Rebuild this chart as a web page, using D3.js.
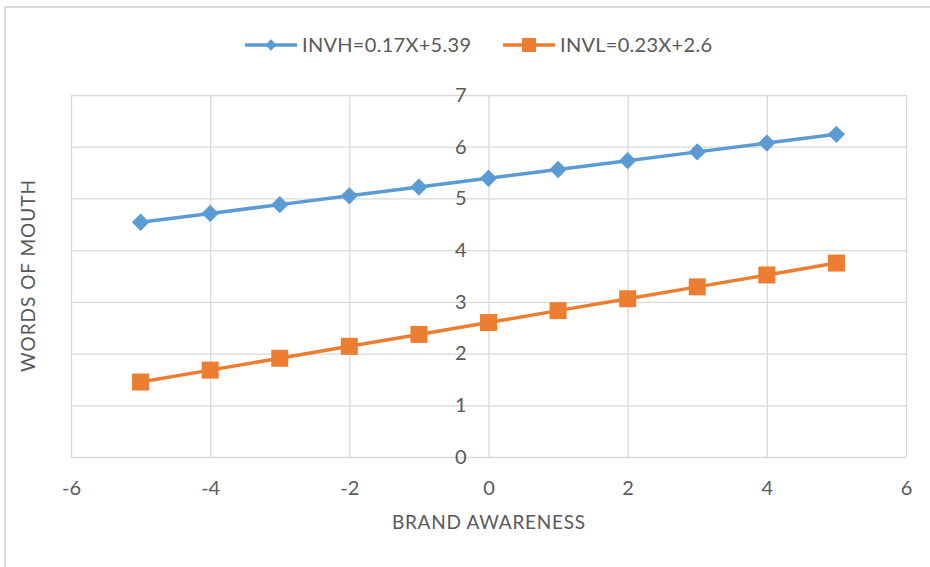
<!DOCTYPE html>
<html>
<head>
<meta charset="utf-8">
<script src="https://cdn.jsdelivr.net/npm/d3@7"></script>
<style>
  body { margin: 0; background: #fff; }
  text { font-family: Lato, "Open Sans", sans-serif; fill: #595959; }
</style>
</head>
<body>
<div id="chart"></div>
<script>
// values
var xValues = [-5, -4, -3, -2, -1, 0, 1, 2, 3, 4, 5];
var invhValues = [4.54, 4.71, 4.88, 5.05, 5.22, 5.39, 5.56, 5.73, 5.90, 6.07, 6.24];
var invlValues = [1.45, 1.68, 1.91, 2.14, 2.37, 2.60, 2.83, 3.06, 3.29, 3.52, 3.75];
var xTicks = [-6, -4, -2, 0, 2, 4, 6];
var yTicks = [0, 1, 2, 3, 4, 5, 6, 7];
var seriesNames = ["INVH=0.17X+5.39", "INVL=0.23X+2.6"];

var W = 930, H = 567;
var margin = { top: 95, right: 24, bottom: 110, left: 71 };
var width = 906 - margin.left;
var height = 457 - margin.top;

var svg = d3.select("#chart")
  .append("svg")
  .attr("width", W)
  .attr("height", H);

// outer frame (only left and top visible)
svg.append("line").attr("x1", 5).attr("x2", 5).attr("y1", 7).attr("y2", H)
  .attr("stroke", "#d9d9d9").attr("stroke-width", 2);
svg.append("line").attr("x1", 5).attr("x2", W).attr("y1", 7).attr("y2", 7)
  .attr("stroke", "#d9d9d9").attr("stroke-width", 2);

var g = svg.append("g")
  .attr("transform", "translate(" + margin.left + "," + margin.top + ")");

var x = d3.scaleLinear().domain([-6, 6]).range([0, width]);
var y = d3.scaleLinear().domain([0, 7]).range([height, 0]);

// gridlines
g.selectAll("hgrid")
  .data(yTicks)
  .enter()
  .append("line")
  .attr("x1", 0).attr("x2", width)
  .attr("y1", function (d) { return y(d) + 0.5; })
  .attr("y2", function (d) { return y(d) + 0.5; })
  .attr("stroke", "#d9d9d9").attr("stroke-width", 1.3);

g.selectAll("vgrid")
  .data(xTicks)
  .enter()
  .append("line")
  .attr("x1", function (d) { return x(d) + 0.5; })
  .attr("x2", function (d) { return x(d) + 0.5; })
  .attr("y1", 0).attr("y2", height)
  .attr("stroke", "#d9d9d9").attr("stroke-width", 1.3);

// x tick labels
var xAxis = g.append("g")
  .attr("transform", "translate(0," + height + ")")
  .call(d3.axisBottom(x).tickValues(xTicks).tickSize(0).tickPadding(24)
    .tickFormat(function (d) { return String(d); }));
xAxis.select(".domain").remove();
xAxis.selectAll("text").style("font-size", "20px").attr("fill", "#595959");

// y tick labels, placed next to the vertical axis at x = 0
var yAxis = g.append("g")
  .attr("transform", "translate(" + x(0) + ",0)")
  .call(d3.axisLeft(y).tickValues(yTicks).tickSize(0).tickPadding(22)
    .tickFormat(function (d) { return String(d); }));
yAxis.select(".domain").remove();
yAxis.selectAll("text").style("font-size", "20px").attr("fill", "#595959");

// lines
var line = d3.line()
  .x(function (d) { return x(d[0]); })
  .y(function (d) { return y(d[1]); });

var invh = xValues.map(function (v, i) { return [v, invhValues[i]]; });
var invl = xValues.map(function (v, i) { return [v, invlValues[i]]; });

g.append("path").datum(invh).attr("d", line)
  .attr("fill", "none").attr("stroke", "#5B9BD5").attr("stroke-width", 3.5);
g.append("path").datum(invl).attr("d", line)
  .attr("fill", "none").attr("stroke", "#ED7D31").attr("stroke-width", 3.5);

// markers: diamonds are rotated squares
var diamond = d3.symbol().type(d3.symbolSquare).size(150);
g.selectAll("diamonds")
  .data(invh)
  .enter()
  .append("path")
  .attr("d", diamond)
  .attr("transform", function (d) { return "translate(" + x(d[0]) + "," + y(d[1]) + ") rotate(45)"; })
  .attr("fill", "#5B9BD5");

var sq = 17;
g.selectAll("squares")
  .data(invl)
  .enter()
  .append("rect")
  .attr("x", function (d) { return x(d[0]) - sq / 2; })
  .attr("y", function (d) { return y(d[1]) - sq / 2; })
  .attr("width", sq).attr("height", sq)
  .attr("fill", "#ED7D31");

// axis titles
svg.append("text")
  .attr("x", x(0) + margin.left)
  .attr("y", 529)
  .attr("text-anchor", "middle")
  .style("font-size", "19px")
  .attr("textLength", 193)
  .text("BRAND AWARENESS");

svg.append("text")
  .attr("transform", "translate(35," + (margin.top + height / 2) + ") rotate(-90)")
  .attr("text-anchor", "middle")
  .style("font-size", "19px")
  .attr("textLength", 192)
  .text("WORDS OF MOUTH");

// legend
var legend = svg.append("g");
var legendX = [245, 503];
var legendW = [169, 152];
var colors = ["#5B9BD5", "#ED7D31"];
seriesNames.forEach(function (name, i) {
  var lg = legend.append("g").attr("transform", "translate(" + legendX[i] + ",45)");
  lg.append("line").attr("x1", 0).attr("x2", 52).attr("y1", 0).attr("y2", 0)
    .attr("stroke", colors[i]).attr("stroke-width", 3.5);
  if (i === 0) {
    lg.append("path").attr("d", d3.symbol().type(d3.symbolSquare).size(64))
      .attr("transform", "translate(26,0) rotate(45)").attr("fill", colors[i]);
  } else {
    lg.append("rect").attr("x", 19).attr("y", -7).attr("width", 14).attr("height", 14)
      .attr("fill", colors[i]);
  }
  lg.append("text").attr("x", 57).attr("y", 7)
    .style("font-size", "20px")
    .attr("textLength", legendW[i])
    .text(name);
});
</script>
</body>
</html>
